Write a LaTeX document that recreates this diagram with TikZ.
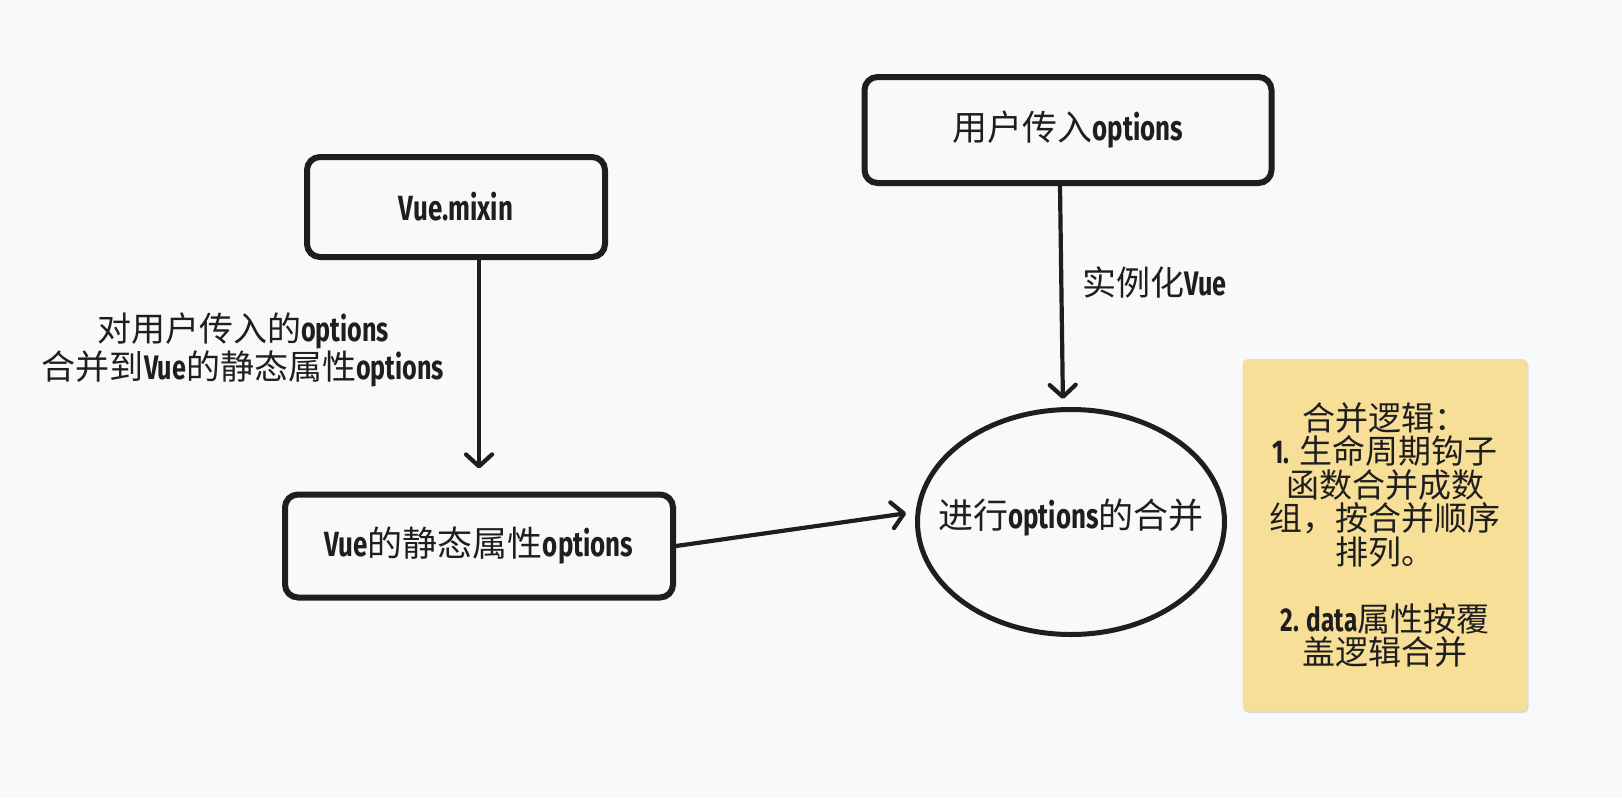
\documentclass[tikz,border=0pt]{standalone}
\usepackage{fontspec}
\usetikzlibrary{arrows.meta,shapes.geometric,shadows}
\newfontfamily\cjk{Noto Sans CJK SC}
\newfontfamily\hand{Fira Sans}[FakeStretch=0.74]
\newcommand\lt[1]{{\hand\bfseries #1}}
\definecolor{bg}{HTML}{F8F9FB}
\definecolor{ink}{HTML}{1E1E1E}
\definecolor{note}{HTML}{F8DF98}
\tikzset{
  box/.style={draw=ink, line width=6pt, rounded corners=13pt, fill=bg, text=ink,
    font=\cjk\fontsize{35}{40}\selectfont, inner sep=0pt},
  oval/.style={ellipse, draw=ink, line width=5pt, inner sep=0pt},
  ovaltext/.style={text=ink, inner sep=0pt, font=\cjk\fontsize{35}{40}\selectfont},
  arr/.style={draw=ink, line width=4.2pt, line cap=round,
    -{Straight Barb[length=12pt,width=26pt,line width=4.2pt,round]}},
  lbl/.style={text=ink, font=\cjk\fontsize{34}{36}\selectfont, align=center, inner sep=0pt},
  notebox/.style={fill=note, rounded corners=5pt, drop shadow={shadow xshift=1pt, shadow yshift=-2pt, opacity=0.25},
    text=ink, font=\cjk\fontsize{33}{33.5}\selectfont, align=center, inner sep=0pt}
}
\begin{document}
\begin{tikzpicture}[x=1pt,y=-1pt]
\useasboundingbox[fill=bg] (0,0) rectangle (1622,798);
\node[box, minimum width=298pt, minimum height=100pt] (mixin) at (456,207) {\lt{Vue.mixin}};
\node[box, minimum width=407pt, minimum height=106pt] (user) at (1068,130) {用户传入\lt{options}};
\node[box, minimum width=388pt, minimum height=103pt] (static) at (479,546) {\lt{Vue}的静态属性\lt{options}};
\node[oval, minimum width=307pt, minimum height=225pt] (ell) at (1071,522) {};
\node[ovaltext] (ellt) at (1071,518) {进行\lt{options}的合并};
\node[notebox, minimum width=285pt, minimum height=352pt] (nt) at (1385,535) {合并逻辑：\\
\lt{1.} 生命周期钩子\\
函数合并成数\\
组，按合并顺序\\
排列。\\[33.5pt]
\lt{2. data}属性按覆\\
盖逻辑合并};
\node[lbl] (l1) at (243,350) {对用户传入的\lt{options}\\合并到\lt{Vue}的静态属性\lt{options}};
\node[lbl, anchor=west] (l2) at (1082,282) {实例化\lt{Vue}};
\draw[arr, shorten >=23pt] (mixin.south -| static.north) -- (static.north);
\draw[arr, shorten >=8pt] ([xshift=-8pt]user.south) -- ([xshift=-8pt]ell.north);
\draw[arr, shorten >=9pt] (static.east) -- ([yshift=10pt]ell.west);
\end{tikzpicture}
\end{document}
